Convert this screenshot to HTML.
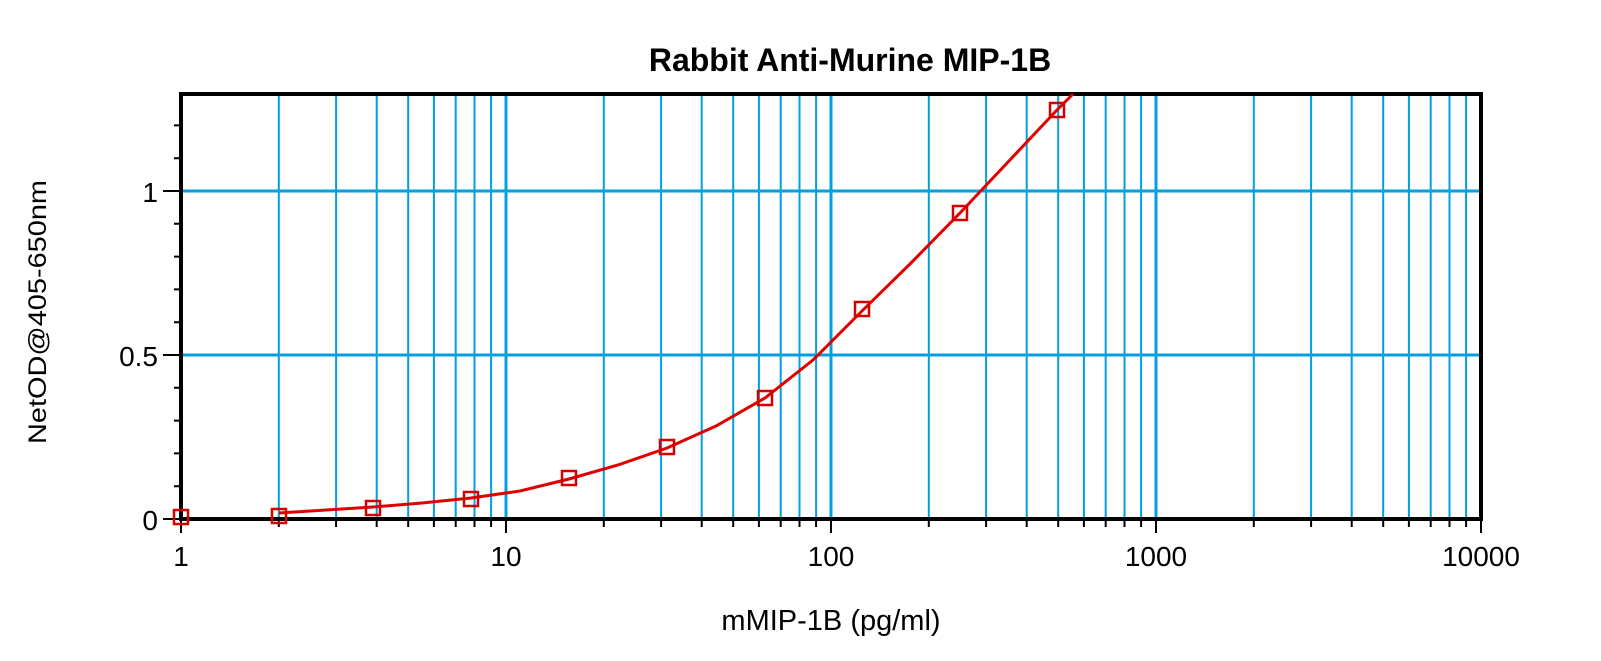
<!DOCTYPE html>
<html><head><meta charset="utf-8"><style>
html,body{margin:0;padding:0;background:#fff;}
svg{display:block;font-family:"Liberation Sans",Arial,sans-serif;}
</style></head><body>
<svg width="1601" height="661" viewBox="0 0 1601 661" xmlns="http://www.w3.org/2000/svg">
<rect x="0" y="0" width="1601" height="661" fill="#fff"/>
<path fill="none" stroke="#00a0e0" stroke-width="2" d="M278.8 94V519M336.1 94V519M376.7 94V519M408.2 94V519M433.9 94V519M455.7 94V519M474.5 94V519M491.1 94V519M603.8 94V519M661.1 94V519M701.7 94V519M733.2 94V519M758.9 94V519M780.7 94V519M799.5 94V519M816.1 94V519M928.8 94V519M986.1 94V519M1026.7 94V519M1058.2 94V519M1083.9 94V519M1105.7 94V519M1124.5 94V519M1141.1 94V519M1253.8 94V519M1311.1 94V519M1351.7 94V519M1383.2 94V519M1408.9 94V519M1430.7 94V519M1449.5 94V519M1466.1 94V519"/>
<path fill="none" stroke="#00a0e0" stroke-width="3" d="M506 94V519M831 94V519M1156 94V519M181 191H1481M181 355H1481"/>
<path fill="none" stroke="#000" stroke-width="2" d="M278.8 519v8M336.1 519v8M376.7 519v8M408.2 519v8M433.9 519v8M455.7 519v8M474.5 519v8M491.1 519v8M603.8 519v8M661.1 519v8M701.7 519v8M733.2 519v8M758.9 519v8M780.7 519v8M799.5 519v8M816.1 519v8M928.8 519v8M986.1 519v8M1026.7 519v8M1058.2 519v8M1083.9 519v8M1105.7 519v8M1124.5 519v8M1141.1 519v8M1253.8 519v8M1311.1 519v8M1351.7 519v8M1383.2 519v8M1408.9 519v8M1430.7 519v8M1449.5 519v8M1466.1 519v8M181 519v14M506 519v14M831 519v14M1156 519v14M1481 519v14M163 519h18M174 486.2h7M174 453.4h7M174 420.6h7M174 387.8h7M163 355h18M174 322.2h7M174 289.4h7M174 256.6h7M174 223.8h7M163 191h18M174 158.2h7M174 125.4h7"/>
<rect x="181" y="94" width="1300" height="425" fill="none" stroke="#000" stroke-width="4"/>
<polyline fill="none" stroke="#e00000" stroke-width="3" points="279,513 373,507 422,503 471,498 520,491 569,479 618,465 667,448 716,426 765,398 813,360 862,311 911,263 960,213 1008,162 1057,110 1073,94"/>
<g fill="none" stroke="#d40000" stroke-width="2.5">
<rect x="174" y="510" width="14" height="14"/>
<rect x="272" y="509" width="14" height="14"/>
<rect x="366" y="501" width="14" height="14"/>
<rect x="464" y="492" width="14" height="14"/>
<rect x="562" y="471" width="14" height="14"/>
<rect x="660" y="440" width="14" height="14"/>
<rect x="758" y="391" width="14" height="14"/>
<rect x="855" y="302" width="14" height="14"/>
<rect x="953" y="206" width="14" height="14"/>
<rect x="1050" y="103" width="14" height="14"/>
</g>
<g font-size="28" fill="#000">
<text x="158" y="530" text-anchor="end">0</text>
<text x="158" y="366" text-anchor="end">0.5</text>
<text x="158" y="202" text-anchor="end">1</text>
<text x="181" y="566" text-anchor="middle">1</text>
<text x="506" y="566" text-anchor="middle">10</text>
<text x="831" y="566" text-anchor="middle">100</text>
<text x="1156" y="566" text-anchor="middle">1000</text>
<text x="1481" y="566" text-anchor="middle">10000</text>
<text x="831" y="630" text-anchor="middle" font-size="29">mMIP-1B (pg/ml)</text>
</g>
<text x="850" y="71" font-size="32" font-weight="bold" text-anchor="middle" fill="#000">Rabbit Anti-Murine MIP-1B</text>
<text transform="translate(46,312) rotate(-90)" font-size="25" text-anchor="middle" textLength="264" lengthAdjust="spacingAndGlyphs" fill="#000">NetOD@405-650nm</text>
</svg>
</body></html>
